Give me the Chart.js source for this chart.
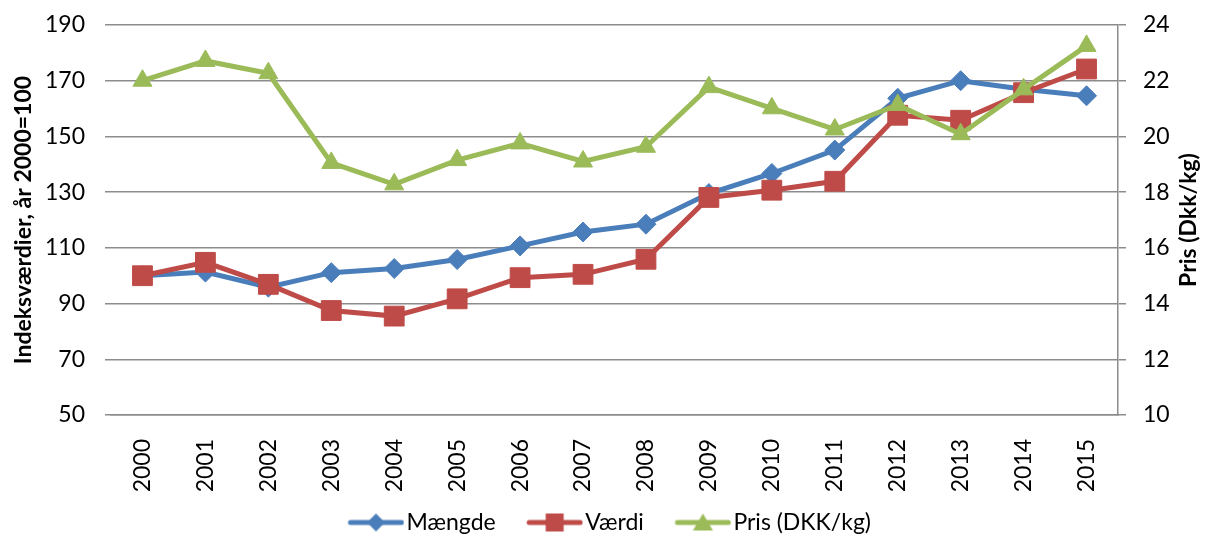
<!DOCTYPE html>
<html>
<head>
<meta charset="utf-8">
<script src="https://cdn.jsdelivr.net/npm/chart.js@4.4.0/dist/chart.umd.min.js"></script>
<style>
  html, body { margin: 0; padding: 0; background: #fff; }
</style>
</head>
<body>
<canvas id="chart" width="1208" height="540"></canvas>
<script>
'use strict';

// data
const years = ['2000', '2001', '2002', '2003', '2004', '2005', '2006', '2007',
  '2008', '2009', '2010', '2011', '2012', '2013', '2014', '2015'];
const maengde = [100, 101.3, 95.9, 101.1, 102.6, 105.8, 110.7, 115.7,
  118.5, 129.5, 136.7, 145.1, 163.7, 170.0, 166.9, 164.6];
const vaerdi = [100, 104.8, 96.9, 87.5, 85.5, 91.7, 99.3, 100.5,
  105.9, 128.1, 130.7, 133.9, 157.6, 155.8, 165.7, 174.2];
const pris = [22.0, 22.71, 22.27, 19.05, 18.28, 19.15, 19.75, 19.10,
  19.63, 21.77, 21.01, 20.25, 21.13, 20.08, 21.69, 23.25];

const seriesNames = ['Mængde', 'Værdi', 'Pris (DKK/kg)'];
const leftTitle = 'Indeksværdier, år 2000=100';
const rightTitle = 'Pris (Dkk/kg)';
const leftMin = 50, leftMax = 190, leftStep = 20;
const rightMin = 10, rightMax = 24, rightStep = 2;

const blue = '#4A7EBB';
const red = '#BE4B48';
const green = '#9BBB59';
const gridColor = '#8c8c8c';
const font = 'Lato';

let canvasElem = document.getElementById('chart');

// legend icon: line with the marker in the middle,
// drawn in the right part of a wider transparent image
function legendIcon(color, style) {
  let c = document.createElement('canvas');
  c.width = 77;
  c.height = 24;
  let ctx = c.getContext('2d');
  let ox = 20;
  let cx = ox + 28.5;
  ctx.strokeStyle = color;
  ctx.fillStyle = color;
  ctx.lineWidth = 5;
  ctx.lineCap = 'round';
  ctx.beginPath();
  ctx.moveTo(ox + 3, 12);
  ctx.lineTo(ox + 54, 12);
  ctx.stroke();
  ctx.beginPath();
  if (style === 'diamond') {
    ctx.moveTo(cx, 3); ctx.lineTo(cx + 9, 12); ctx.lineTo(cx, 21); ctx.lineTo(cx - 9, 12);
  } else if (style === 'square') {
    ctx.rect(cx - 9, 3, 18, 18);
  } else {
    ctx.moveTo(cx, 3); ctx.lineTo(cx + 10, 20); ctx.lineTo(cx - 10, 20);
  }
  ctx.closePath();
  ctx.fill();
  return c;
}

const icons = [legendIcon(blue, 'diamond'), legendIcon(red, 'square'), legendIcon(green, 'triangle')];

const rightTitlePlugin = {
  id: 'rightTitle',
  afterDraw(chart) {
    let ctx = chart.ctx;
    let area = chart.chartArea;
    ctx.save();
    ctx.translate(1189, (area.top + area.bottom) / 2);
    ctx.rotate(-Math.PI / 2);
    ctx.font = 'bold 23px ' + font;
    ctx.fillStyle = '#000';
    ctx.textAlign = 'center';
    ctx.textBaseline = 'middle';
    ctx.fillText(rightTitle, 0, 0);
    ctx.restore();
  }
};

const data = {
  labels: years,
  datasets: [
    {
      label: seriesNames[0],
      data: maengde,
      yAxisID: 'y',
      borderColor: blue,
      backgroundColor: blue,
      borderWidth: 5,
      pointStyle: 'rectRot',
      pointRadius: 10,
      pointHoverRadius: 10,
      pointBorderWidth: 1,
      order: 3,
    },
    {
      label: seriesNames[1],
      data: vaerdi,
      yAxisID: 'y',
      borderColor: red,
      backgroundColor: red,
      borderWidth: 5,
      pointStyle: 'rect',
      pointRadius: 14,
      pointHoverRadius: 14,
      pointBorderWidth: 1,
      order: 2,
    },
    {
      label: seriesNames[2],
      data: pris,
      yAxisID: 'y1',
      borderColor: green,
      backgroundColor: green,
      borderWidth: 5,
      pointStyle: 'triangle',
      pointRadius: 11,
      pointHoverRadius: 11,
      pointBorderWidth: 1,
      order: 1,
    },
  ],
};

// keep the value axes from pushing the plot down
function fitY(width) {
  return function (axis) {
    axis.width = width;
    axis.paddingTop = 0;
    axis.paddingBottom = 0;
  };
}

const options = {
  responsive: false,
  animation: false,
  devicePixelRatio: 1,
  layout: {
    padding: { top: 25, left: 0, right: 0, bottom: -4 },
  },
  plugins: {
    tooltip: { enabled: false },
    legend: {
      position: 'bottom',
      labels: {
        usePointStyle: true,
        pointStyleWidth: 58,
        padding: 20,
        color: '#000',
        font: { family: font, size: 23 },
        generateLabels: function () {
          return seriesNames.map((name, i) => ({
            text: name,
            pointStyle: icons[i],
            fillStyle: data.datasets[i].borderColor,
            strokeStyle: data.datasets[i].borderColor,
            lineWidth: 0,
            hidden: false,
            datasetIndex: i,
          }));
        },
      },
    },
  },
  scales: {
    x: {
      offset: true,
      grid: { display: false },
      border: { display: true, color: gridColor, width: 1.5 },
      ticks: {
        autoSkip: false,
        minRotation: 90,
        maxRotation: 90,
        padding: 16,
        color: '#000',
        font: { family: font, size: 23 },
      },
      afterFit: function (axis) { axis.height = 76; },
    },
    y: {
      position: 'left',
      min: leftMin,
      max: leftMax,
      ticks: {
        stepSize: leftStep,
        padding: 20,
        color: '#000',
        font: { family: font, size: 23 },
      },
      grid: { color: gridColor, lineWidth: 1.5, tickLength: 6 },
      border: { display: false },
      title: {
        display: true,
        text: leftTitle,
        color: '#000',
        font: { family: font, size: 23, weight: 'bold' },
        padding: { top: 10, bottom: 0 },
      },
      afterFit: fitY(111),
    },
    y1: {
      position: 'right',
      min: rightMin,
      max: rightMax,
      ticks: {
        stepSize: rightStep,
        padding: 17,
        color: '#000',
        font: { family: font, size: 23 },
      },
      grid: { drawOnChartArea: false, color: gridColor, lineWidth: 1.5, tickLength: 8 },
      border: { display: true, color: gridColor, width: 1.5 },
      afterFit: fitY(90),
    },
  },
};

new Chart(canvasElem, {
  type: 'line',
  data: data,
  options: options,
  plugins: [rightTitlePlugin],
});
</script>
</body>
</html>
